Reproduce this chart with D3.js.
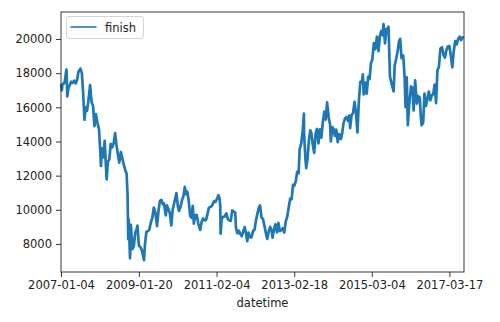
<!DOCTYPE html>
<html>
<head>
<meta charset="utf-8">
<script src="https://cdn.jsdelivr.net/npm/d3@7"></script>
<style>
  body { margin: 0; background: #fff; }
  svg { font-family: "DejaVu Sans", sans-serif; }
</style>
</head>
<body>
<svg id="chart" width="500" height="322"></svg>
<script>
// closing values of "finish" (roughly every two weeks, plus turning points)
const finish = [
  ["2007-01-04",17353],["2007-01-12",17000],["2007-01-19",17370],["2007-01-31",17383],["2007-02-09",17504],
  ["2007-02-22",18100],["2007-02-26",18215],["2007-03-05",16642],["2007-03-15",17100],["2007-03-29",17290],
  ["2007-04-11",17500],["2007-04-25",17430],["2007-05-11",17560],["2007-05-25",17400],["2007-06-07",17600],
  ["2007-06-21",18100],["2007-07-09",18261],["2007-07-23",18000],["2007-08-03",17000],["2007-08-17",15273],
  ["2007-08-29",16000],["2007-09-11",15800],["2007-09-26",16500],["2007-10-10",17300],["2007-10-24",16300],
  ["2007-11-07",16100],["2007-11-21",14900],["2007-12-05",15600],["2007-12-19",15100],
  ["2008-01-04",14691],["2008-01-15",13505],["2008-01-22",12573],["2008-01-31",13592],["2008-02-14",13068],
  ["2008-02-27",14031],["2008-03-10",12532],["2008-03-17",11787],["2008-03-28",12820],["2008-04-11",12945],
  ["2008-04-25",13863],["2008-05-09",13655],["2008-05-23",13891],["2008-06-06",14489],["2008-06-19",13800],
  ["2008-07-03",13237],["2008-07-16",12760],["2008-07-31",13376],["2008-08-14",13020],["2008-08-28",12660],
  ["2008-09-10",12346],["2008-09-24",12115],["2008-10-03",10938],["2008-10-10",8276],["2008-10-14",9447],
  ["2008-10-27",7162],["2008-11-04",9114],["2008-11-20",7703],["2008-12-03",7900],["2008-12-16",8664],
  ["2008-12-30",8859],
  ["2009-01-06",9080],["2009-01-20",7901],["2009-02-03",7825],["2009-02-17",7645],["2009-03-02",7280],
  ["2009-03-10",7055],["2009-03-19",7946],["2009-04-02",8719],["2009-04-15",8743],["2009-04-30",8828],
  ["2009-05-15",9265],["2009-05-29",9523],["2009-06-12",10135],["2009-06-26",9877],["2009-07-13",9050],
  ["2009-07-27",9934],["2009-08-10",10524],["2009-08-24",10581],["2009-09-07",10320],["2009-09-18",10370],
  ["2009-10-05",9674],["2009-10-16",10257],["2009-10-30",10035],["2009-11-13",9804],["2009-11-27",9082],
  ["2009-12-10",10008],["2009-12-30",10546],
  ["2010-01-15",10982],["2010-01-29",10198],["2010-02-09",9932],["2010-02-24",10198],["2010-03-10",10567],
  ["2010-03-24",10815],["2010-04-05",11339],["2010-04-19",10909],["2010-04-30",11057],["2010-05-14",10462],
  ["2010-05-27",9639],["2010-06-08",9537],["2010-06-21",10238],["2010-07-01",9191],["2010-07-15",9685],
  ["2010-07-29",9696],["2010-08-12",9212],["2010-08-31",8824],["2010-09-14",9299],["2010-09-28",9495],
  ["2010-10-12",9388],["2010-10-26",9401],["2010-11-08",9732],["2010-11-22",10115],["2010-12-06",10167],
  ["2010-12-20",10216],
  ["2011-01-11",10510],["2011-01-25",10464],["2011-02-08",10635],["2011-02-21",10857],["2011-03-04",10693],
  ["2011-03-11",10254],["2011-03-15",8605],["2011-03-24",9435],["2011-04-07",9590],["2011-04-21",9606],
  ["2011-05-09",9794],["2011-05-23",9460],["2011-06-06",9380],["2011-06-20",9354],["2011-07-04",9965],
  ["2011-07-19",9889],["2011-08-02",9844],["2011-08-09",8944],["2011-08-22",8628],["2011-09-05",8785],
  ["2011-09-22",8560],["2011-10-04",8456],["2011-10-18",8742],["2011-10-31",8988],["2011-11-14",8603],
  ["2011-11-25",8160],["2011-12-08",8664],["2011-12-22",8395],
  ["2012-01-06",8390],["2012-01-20",8766],["2012-02-03",8831],["2012-02-17",9384],["2012-03-02",9777],
  ["2012-03-15",10123],["2012-03-27",10255],["2012-04-10",9538],["2012-04-24",9468],["2012-05-10",9009],
  ["2012-05-24",8564],["2012-06-04",8296],["2012-06-18",8721],["2012-07-02",9003],["2012-07-17",8755],
  ["2012-07-25",8366],["2012-08-08",8881],["2012-08-22",9156],["2012-09-05",8679],["2012-09-19",9232],
  ["2012-10-03",8746],["2012-10-17",8806],["2012-10-31",8928],["2012-11-14",8664],["2012-11-28",9308],
  ["2012-12-12",9581],["2012-12-25",10080],
  ["2013-01-10",10652],["2013-01-24",10620],["2013-02-06",11463],["2013-02-18",11407],["2013-03-04",11652],
  ["2013-03-18",12220],["2013-04-01",12135],["2013-04-11",13549],["2013-04-25",13843],["2013-05-10",14607],
  ["2013-05-22",15627],["2013-05-23",14483],["2013-06-06",12904],["2013-06-13",12445],["2013-06-25",12969],
  ["2013-07-09",14109],["2013-07-22",14658],["2013-08-02",14466],["2013-08-13",13867],["2013-08-28",13338],
  ["2013-09-10",14423],["2013-09-24",14732],["2013-10-08",13894],["2013-10-22",14713],["2013-11-05",14225],
  ["2013-11-19",15127],["2013-12-03",15749],["2013-12-17",15279],["2013-12-30",16291],
  ["2014-01-14",15422],["2014-01-28",14980],["2014-02-04",14008],["2014-02-18",14843],["2014-03-04",14721],
  ["2014-03-14",14327],["2014-03-28",14696],["2014-04-11",13960],["2014-04-25",14429],["2014-05-12",14149],
  ["2014-05-23",14462],["2014-06-06",15077],["2014-06-20",15349],["2014-07-04",15437],["2014-07-18",15215],
  ["2014-08-01",15523],["2014-08-08",14778],["2014-08-22",15539],["2014-09-05",15669],["2014-09-19",16321],
  ["2014-10-03",15708],["2014-10-17",14532],["2014-10-31",16413],["2014-11-14",17490],["2014-11-28",17459],
  ["2014-12-08",17935],["2014-12-16",16755],["2014-12-30",17450],
  ["2015-01-14",16795],["2015-01-28",17795],["2015-02-10",17652],["2015-02-24",18603],["2015-03-09",18790],
  ["2015-03-23",19754],["2015-04-06",19397],["2015-04-22",20133],["2015-05-07",19292],["2015-05-21",20202],
  ["2015-06-03",20473],["2015-06-17",20219],["2015-06-24",20868],["2015-07-08",19737],["2015-07-22",20593],
  ["2015-08-05",20614],["2015-08-11",20720],["2015-08-25",17806],["2015-09-08",17427],["2015-09-29",16930],
  ["2015-10-09",18438],["2015-10-23",18825],["2015-11-06",19265],["2015-11-20",19879],["2015-12-01",20012],
  ["2015-12-14",18883],["2015-12-30",19033],
  ["2016-01-13",17715],["2016-01-21",16017],["2016-02-02",17750],["2016-02-12",14952],["2016-02-26",16188],
  ["2016-03-14",17233],["2016-03-29",17103],["2016-04-08",15821],["2016-04-22",17572],["2016-05-09",16216],
  ["2016-05-23",16654],["2016-06-06",16580],["2016-06-16",15434],["2016-06-24",14952],["2016-07-08",15107],
  ["2016-07-21",16810],["2016-08-04",16083],["2016-08-18",16486],["2016-09-01",16926],["2016-09-15",16405],
  ["2016-09-29",16693],["2016-10-13",16774],["2016-10-27",17336],["2016-11-09",16251],["2016-11-22",18162],
  ["2016-12-06",18360],["2016-12-21",19444],
  ["2017-01-05",19520],["2017-01-19",19072],["2017-02-02",18914],["2017-02-16",19347],["2017-03-02",19564],
  ["2017-03-16",19590],["2017-03-30",19063],["2017-04-14",18335],["2017-04-27",19252],["2017-05-12",19883],
  ["2017-05-26",19687],["2017-06-09",20013],["2017-06-23",20133],["2017-07-07",19929],["2017-07-21",20099],
  ["2017-08-04",20050]
];

const xTicks = ["2007-01-04", "2009-01-20", "2011-02-04", "2013-02-18", "2015-03-04", "2017-03-17"];
const yTicks = [8000, 10000, 12000, 14000, 16000, 18000, 20000];
const yRange = [6360, 21580];
const seriesName = "finish";
const xLabel = "datetime";

const parse = d3.timeParse("%Y-%m-%d");
const data = finish.map(d => ({ date: parse(d[0]), value: d[1] }));

const margin = { left: 61, right: 36, top: 12, bottom: 50 };
const W = 500, H = 322;

const svg = d3.select("#chart");

const x = d3.scaleTime()
    .domain(d3.extent(data, d => d.date))
    .range([margin.left, W - margin.right]);

const y = d3.scaleLinear()
    .domain(yRange)
    .range([H - margin.bottom, margin.top]);

const line = d3.line()
    .x(d => x(d.date))
    .y(d => y(d.value));

const g = svg.append("g");

g.append("path")
    .datum(data)
    .attr("fill", "none")
    .attr("stroke", "#1f77b4")
    .attr("stroke-width", 2.7)
    .attr("stroke-linejoin", "round")
    .attr("d", line);

// axes
const xAxis = svg.append("g")
    .attr("transform", "translate(0," + (H - margin.bottom) + ")")
    .call(d3.axisBottom(x)
        .tickValues(xTicks.map(parse))
        .tickFormat(d3.timeFormat("%Y-%m-%d"))
        .tickSizeOuter(0)
        .tickSize(5)
        .tickPadding(4));

const yAxis = svg.append("g")
    .attr("transform", "translate(" + margin.left + ",0)")
    .call(d3.axisLeft(y)
        .tickValues(yTicks)
        .tickFormat(d3.format("d"))
        .tickSizeOuter(0)
        .tickSize(5)
        .tickPadding(4));

[xAxis, yAxis].forEach(a => {
    a.select(".domain").remove();
    a.selectAll(".tick line").attr("stroke", "#222").attr("stroke-width", 0.9);
    a.selectAll(".tick text")
        .attr("fill", "#222")
        .style("font-family", "DejaVu Sans")
        .style("font-size", "11.5px");
});

// frame
svg.append("rect")
    .attr("x", margin.left)
    .attr("y", margin.top)
    .attr("width", W - margin.left - margin.right)
    .attr("height", H - margin.top - margin.bottom)
    .attr("fill", "none")
    .attr("stroke", "#222")
    .attr("stroke-width", 0.9);

svg.append("text")
    .attr("x", (margin.left + W - margin.right) / 2)
    .attr("y", 307)
    .attr("text-anchor", "middle")
    .attr("fill", "#222")
    .style("font-size", "11.5px")
    .text(xLabel);

// legend
const lg = svg.append("g").attr("transform", "translate(66.5,16.5)");
lg.append("rect")
    .attr("width", 77)
    .attr("height", 22)
    .attr("rx", 2.5)
    .attr("fill", "#fff")
    .attr("fill-opacity", 0.8)
    .attr("stroke", "#d0d0d0")
    .attr("stroke-width", 0.9);
lg.append("line")
    .attr("x1", 4).attr("x2", 30)
    .attr("y1", 10.5).attr("y2", 10.5)
    .attr("stroke", "#1f77b4")
    .attr("stroke-width", 1.6);
lg.append("text")
    .attr("x", 38.5)
    .attr("y", 15)
    .attr("fill", "#222")
    .style("font-size", "11.5px")
    .text(seriesName);
</script>
</body>
</html>
